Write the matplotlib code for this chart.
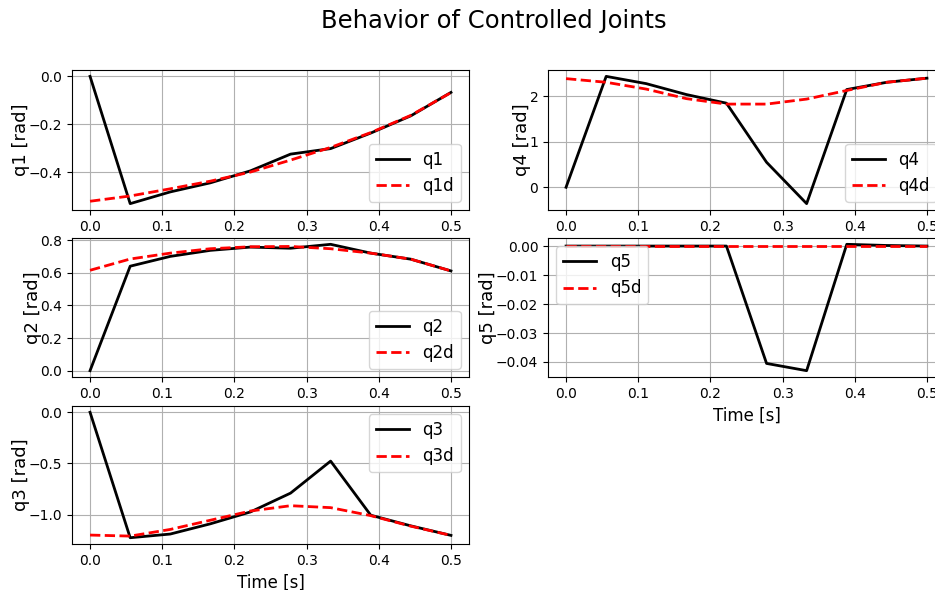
import matplotlib
matplotlib.use("Agg")
import matplotlib.pyplot as plt
import numpy as np

time = [0.0, 0.0556, 0.1111, 0.1667, 0.2222, 0.2778, 0.3333, 0.3889, 0.4444, 0.5]

q1 = [0.0, -0.532, -0.483, -0.445, -0.395, -0.325, -0.302, -0.237, -0.165, -0.067]
q1d = [-0.522, -0.500, -0.470, -0.438, -0.400, -0.350, -0.297, -0.235, -0.163, -0.068]

q2 = [0.0, 0.640, 0.700, 0.737, 0.757, 0.750, 0.774, 0.720, 0.683, 0.611]
q2d = [0.615, 0.684, 0.720, 0.747, 0.759, 0.761, 0.747, 0.720, 0.683, 0.611]

q3 = [0.0, -1.226, -1.190, -1.090, -0.974, -0.790, -0.477, -1.006, -1.110, -1.203]
q3d = [-1.200, -1.210, -1.145, -1.055, -0.965, -0.913, -0.932, -1.010, -1.113, -1.203]

q4 = [0.0, 2.44, 2.28, 2.04, 1.85, 0.55, -0.36, 2.15, 2.31, 2.40]
q4d = [2.39, 2.31, 2.16, 1.95, 1.83, 1.83, 1.94, 2.13, 2.31, 2.40]

q5 = [0.0, 0.0, 0.0, 0.0, 0.0, -0.0405, -0.0430, 0.0006, 0.0002, 0.0]
q5d = [0.0, 0.0, 0.0, 0.0, 0.0, 0.0, 0.0, 0.0, 0.0, 0.0]

joints = [
    ("q1", q1, q1d, "lower right"),
    ("q2", q2, q2d, "lower right"),
    ("q3", q3, q3d, "upper right"),
    ("q4", q4, q4d, "lower right"),
    ("q5", q5, q5d, "upper left"),
]

fig = plt.figure(figsize=(9.35, 5.9), dpi=100)
W, H = 935.0, 590.0
col_x = [72, 548]
ax_w = 397
rows = [(70, 210), (238, 377), (406, 544)]
positions = [(0, 0), (0, 1), (0, 2), (1, 0), (1, 1)]

for (name, act, des, loc), (c, r) in zip(joints, positions):
    top, bot = rows[r]
    ax = fig.add_axes([col_x[c] / W, 1 - bot / H, ax_w / W, (bot - top) / H])
    ax.plot(time, act, color="black", lw=2, label=name)
    ax.plot(time, des, color="red", lw=2, ls="--", label=name + "d")
    ax.grid(True)
    ax.set_ylabel(f"{name} [rad]", fontsize=13, labelpad=-1)
    ax.legend(loc=loc, fontsize=12)
    if (c == 0 and r == 2) or (c == 1 and r == 1):
        ax.set_xlabel("Time [s]", fontsize=12)

fig.suptitle("Behavior of Controlled Joints", fontsize=17.5, x=0.528, y=0.985)
fig.savefig("out.png", dpi=100)
